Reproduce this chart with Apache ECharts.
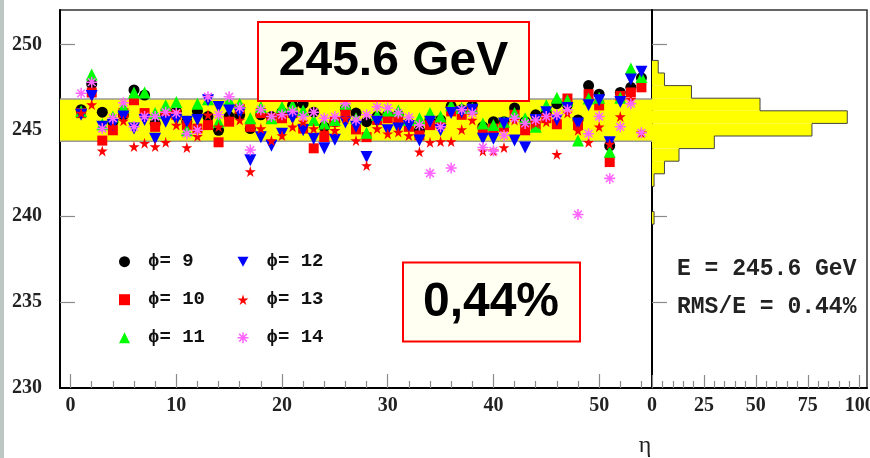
<!DOCTYPE html>
<html><head><meta charset="utf-8">
<script src="https://cdn.jsdelivr.net/npm/echarts@6/dist/echarts.min.js"></script>
<style>html,body{margin:0;padding:0;background:#fff}#c{width:870px;height:458px}</style>
</head><body><div id="c"></div>
<script>
// ---- data ----
const eta = [1,2,3,4,5,6,7,8,9,10,11,12,13,14,15,16,17,18,19,20,21,22,23,24,25,26,27,28,29,30,31,32,33,34,35,36,37,38,39,40,41,42,43,44,45,46,47,48,49,50,51,52,53,54];
const phi9  = [246.2,247.7,246.05,245.5,245.9,247.35,247.05,245.4,245.9,246.1,245.5,246.1,245.8,245.0,245.8,245.9,245.1,245.9,245.8,246.05,246.45,246.55,246.05,245.2,245.5,246.25,246.0,245.5,245.8,245.9,245.9,245.4,245.0,245.6,245.6,246.4,246.2,246.45,245.2,245.5,245.5,246.3,245.5,245.9,246.0,246.55,246.5,245.6,247.6,247.1,244.1,247.2,247.5,248.05];
const phi10 = [246.0,247.2,244.4,245.0,246.0,246.75,246.0,245.2,246.0,245.9,245.3,245.1,245.3,244.3,245.5,246.25,245.2,246.0,245.7,245.7,246.0,245.1,243.95,244.6,245.5,246.0,245.05,244.6,245.6,245.7,245.7,245.2,244.7,245.3,245.4,246.1,245.9,246.2,245.0,245.1,245.2,245.9,245.0,245.3,245.7,245.35,246.85,245.3,247.1,246.45,243.15,247.0,247.2,247.5];
const phi11 = [246.1,248.25,245.35,245.8,246.35,247.2,247.2,246.0,246.45,246.65,245.0,246.55,246.8,245.5,246.75,246.55,245.7,246.35,245.7,246.35,246.45,246.15,245.6,245.4,245.6,246.55,245.7,244.85,245.9,246.15,246.15,245.6,245.7,246.0,245.8,246.45,246.3,246.3,245.4,245.3,245.5,246.0,245.7,245.2,246.45,246.9,246.75,244.4,246.85,246.9,243.75,246.9,248.6,248.1];
const phi12 = [245.9,247.0,245.2,245.3,245.8,245.1,245.6,244.5,245.5,245.6,245.5,245.6,246.75,246.35,246.15,246.0,243.25,244.6,244.1,244.8,245.7,245.0,244.5,243.95,244.45,245.45,245.2,243.45,245.5,245.0,245.1,245.25,244.4,245.5,245.0,246.0,246.05,246.2,244.5,244.5,245.4,244.4,244.0,245.6,246.05,245.6,246.3,245.4,246.45,246.75,244.3,246.65,247.95,248.4];
const phi13 = [246.0,246.5,243.8,245.2,245.55,244.05,244.25,244.05,244.3,245.3,244.0,244.65,245.9,245.2,245.6,245.6,242.6,245.1,244.4,244.7,245.2,245.5,245.1,244.9,245.0,245.7,244.4,242.95,245.1,244.8,244.9,244.7,243.75,244.3,244.35,244.35,245.05,245.6,243.8,243.8,244.0,245.6,245.2,245.4,245.5,243.6,246.0,245.0,244.3,245.2,244.2,245.8,246.8,244.85];
const phi14 = [247.15,247.8,245.1,245.7,246.6,245.2,245.8,245.8,246.05,246.0,244.8,245.0,246.95,245.9,246.95,246.3,243.85,246.2,245.8,245.9,246.1,245.8,246.05,245.7,245.8,246.55,245.6,245.9,246.35,246.3,246.0,245.75,245.3,242.5,245.2,242.8,246.2,246.0,244.0,243.8,244.7,245.7,245.4,245.6,245.8,245.9,246.2,240.1,244.8,245.8,242.2,245.2,246.55,244.85];
const seriesNames = ['ϕ= 9','ϕ= 10','ϕ= 11','ϕ= 12','ϕ= 13','ϕ= 14'];
// energy histogram (30 bins over 230..252 GeV)
const histRange = [230, 252];
const histCounts = [0,0,0,0,0,0,0,0,0,0,0,0,0,1,0,0,1,6,13,30,77,94,52,19,6,3,0,0,0,0];
// mean +- rms band
const band = [244.36, 246.82];
// axis ticks
const yLabels = [230,235,240,245,250];
const yTickVals = [235,240,245,250];
const xLabels = [0,10,20,30,40,50];
const histLabels = [0,25,50,75,100];
const etaRange = [-1, 55];
const countRange = [0, 103.5];

const xMinor = []; for (let v = 0; v <= 54; v += 2) if (v % 10) xMinor.push(v);
const hMinor = []; for (let v = 5; v < 100; v += 5) if (v % 25) hMinor.push(v);

const histW = (histRange[1] - histRange[0]) / histCounts.length;
const histData = histCounts.map((c, i) => [c, histRange[0] + i * histW, histRange[0] + (i + 1) * histW, i > 0 ? histCounts[i - 1] : 0]);

const starPath = 'path://M50,0 L61,35 L98,35 L68,57 L79,91 L50,70 L21,91 L32,57 L2,35 L39,35 Z';
const downTri = 'path://M0,0 L100,0 L50,90 Z';
const asterisk = 'path://M43,0 H57 V100 H43 Z M0,43 H100 V57 H0 Z M20,10 L90,80 L80,90 L10,20 Z M80,10 L90,20 L20,90 L10,80 Z';

const serif = 'Liberation Serif';
const labelStyle = {fontFamily: serif, fontWeight: 'bold', fontSize: 20, color: '#222'};
const tickGray = '#8a8a8a';

function sc(name, vals, symbol, size, color) {
  return {
    type: 'scatter', name: name, xAxisIndex: 0, yAxisIndex: 0, z: 3,
    symbol: symbol, symbolSize: size,
    itemStyle: {color: color, opacity: 1},
    data: eta.map((e, i) => [e, vals[i]])
  };
}

const legendText = {fontFamily: 'Liberation Mono', fontWeight: 'bold', fontSize: 19, lineHeight: 22, color: '#111', padding: [0, 0, 0, 13]};

const chart = echarts.init(document.getElementById('c'), null, {renderer: 'canvas'});
chart.setOption({
  animation: false,
  backgroundColor: '#fff',
  grid: [
    {left: 60, top: 10, width: 592, height: 378, show: true, borderColor: '#333', borderWidth: 1.5, outerBoundsMode: 'none'},
    {left: 652, top: 10, width: 215, height: 378, show: true, borderColor: '#333', borderWidth: 1.5, outerBoundsMode: 'none'}
  ],
  xAxis: [
    {type: 'value', gridIndex: 0, min: etaRange[0], max: etaRange[1], splitLine: {show: false},
     axisLine: {onZero: false, lineStyle: {color: '#000', width: 2}},
     axisTick: {inside: true, length: 14, customValues: xLabels, lineStyle: {color: tickGray, width: 1.2}},
     axisLabel: {customValues: xLabels, margin: 8, ...labelStyle}},
    {type: 'value', gridIndex: 0, min: etaRange[0], max: etaRange[1], position: 'bottom', splitLine: {show: false},
     axisLine: {show: false}, axisLabel: {show: false},
     axisTick: {inside: true, length: 7, customValues: xMinor, lineStyle: {color: tickGray, width: 1.2}}},
    {type: 'value', gridIndex: 1, min: countRange[0], max: countRange[1], splitLine: {show: false},
     axisLine: {onZero: false, lineStyle: {color: '#000', width: 2}},
     axisTick: {inside: true, length: 13, customValues: histLabels, lineStyle: {color: tickGray, width: 1.2}},
     axisLabel: {customValues: histLabels, margin: 8, ...labelStyle}},
    {type: 'value', gridIndex: 1, min: countRange[0], max: countRange[1], position: 'bottom', splitLine: {show: false},
     axisLine: {show: false}, axisLabel: {show: false},
     axisTick: {inside: true, length: 7, customValues: hMinor, lineStyle: {color: tickGray, width: 1.2}}}
  ],
  yAxis: [
    {type: 'value', gridIndex: 0, min: histRange[0], max: histRange[1], splitLine: {show: false},
     axisLine: {onZero: false, lineStyle: {color: '#000', width: 2}},
     axisTick: {inside: true, length: 15, customValues: yTickVals, lineStyle: {color: tickGray, width: 1.2}},
     axisLabel: {customValues: yLabels, margin: 18, ...labelStyle}},
    {type: 'value', gridIndex: 1, min: histRange[0], max: histRange[1], splitLine: {show: false},
     axisLine: {onZero: false, lineStyle: {color: '#000', width: 2}},
     axisTick: {inside: true, length: 15, customValues: yTickVals, lineStyle: {color: tickGray, width: 1.2}},
     axisLabel: {show: false}}
  ],
  legend: [
    {data: seriesNames.slice(0, 3), orient: 'vertical', left: 114, top: 245.7, itemWidth: 11, itemHeight: 11, itemGap: 16,
     selectedMode: false, textStyle: legendText},
    {data: seriesNames.slice(3), orient: 'vertical', left: 232.5, top: 245.7, itemWidth: 11, itemHeight: 11, itemGap: 16,
     selectedMode: false, textStyle: legendText}
  ],
  series: [
    {type: 'custom', xAxisIndex: 0, yAxisIndex: 0, z: 1, silent: true,
     data: [[0, band[0], band[1]]], encode: {x: 0, y: 1},
     renderItem: function (params, api) {
       const cs = params.coordSys;
       const yTop = api.coord([0, api.value(2)])[1];
       const yBot = api.coord([0, api.value(1)])[1];
       return {type: 'group', children: [
         {type: 'rect', shape: {x: cs.x, y: yTop, width: cs.width, height: yBot - yTop}, style: {fill: '#ffff00'}},
         {type: 'line', shape: {x1: cs.x, y1: yTop, x2: cs.x + cs.width, y2: yTop}, style: {stroke: '#999', lineWidth: 1.5}},
         {type: 'line', shape: {x1: cs.x, y1: yBot, x2: cs.x + cs.width, y2: yBot}, style: {stroke: '#999', lineWidth: 1.5}}
       ]};
     }},
    sc(seriesNames[0], phi9, 'circle', 11, '#000000'),
    sc(seriesNames[1], phi10, 'rect', 10, '#ff0000'),
    sc(seriesNames[2], phi11, 'triangle', 12, '#00ff00'),
    sc(seriesNames[3], phi12, downTri, 12, '#0000ff'),
    sc(seriesNames[4], phi13, starPath, 11, '#ff0000'),
    sc(seriesNames[5], phi14, asterisk, 11, '#ff66ff'),
    {type: 'custom', xAxisIndex: 2, yAxisIndex: 1, z: 2, silent: true,
     data: histData, encode: {x: 0, y: 1},
     renderItem: function (params, api) {
       const c = api.value(0), lo = api.value(1), hi = api.value(2), prev = api.value(3);
       const pTL = api.coord([0, hi]);
       const pBR = api.coord([c, lo]);
       const pPrev = api.coord([prev, lo]);
       const children = [];
       if (c > 0) {
         children.push({type: 'rect', shape: {x: pTL[0], y: pTL[1], width: pBR[0] - pTL[0], height: pBR[1] - pTL[1]}, style: {fill: '#ffff00'}});
         children.push({type: 'line', shape: {x1: pBR[0], y1: pTL[1], x2: pBR[0], y2: pBR[1]}, style: {stroke: '#444', lineWidth: 1}});
       }
       if (c !== prev) {
         children.push({type: 'line', shape: {x1: pPrev[0], y1: pBR[1], x2: pBR[0], y2: pBR[1]}, style: {stroke: '#444', lineWidth: 1}});
       }
       return {type: 'group', children: children};
     }}
  ],
  graphic: [
    {type: 'rect', left: 0, top: 0, shape: {width: 4, height: 458}, style: {fill: '#bcc6c2'}, z: 50},
    {type: 'rect', shape: {x: 258, y: 22, width: 271, height: 79}, style: {fill: '#fffff2', stroke: '#ff0000', lineWidth: 2}, z: 100},
    {type: 'text', x: 393.5, y: 62, style: {text: '245.6 GeV', fontFamily: 'Liberation Sans', fontWeight: 'bold', fontSize: 48, fill: '#000', textAlign: 'center', textVerticalAlign: 'middle'}, z: 101},
    {type: 'rect', shape: {x: 403, y: 262.5, width: 177, height: 79}, style: {fill: '#fffff2', stroke: '#ff0000', lineWidth: 2}, z: 100},
    {type: 'text', x: 491, y: 303, style: {text: '0,44%', fontFamily: 'Liberation Sans', fontWeight: 'bold', fontSize: 48, fill: '#000', textAlign: 'center', textVerticalAlign: 'middle'}, z: 101},
    {type: 'text', x: 677, y: 269, style: {text: 'E = 245.6 GeV', fontFamily: 'Liberation Mono', fontWeight: 'bold', fontSize: 23, fill: '#222', textAlign: 'left', textVerticalAlign: 'middle'}, z: 101},
    {type: 'text', x: 677, y: 307, style: {text: 'RMS/E = 0.44%', fontFamily: 'Liberation Mono', fontWeight: 'bold', fontSize: 23, fill: '#222', textAlign: 'left', textVerticalAlign: 'middle'}, z: 101},
    {type: 'text', x: 645, y: 446, style: {text: 'η', fontFamily: serif, fontSize: 24, fill: '#222', textAlign: 'center', textVerticalAlign: 'middle'}, z: 101}
  ]
});
</script></body></html>
